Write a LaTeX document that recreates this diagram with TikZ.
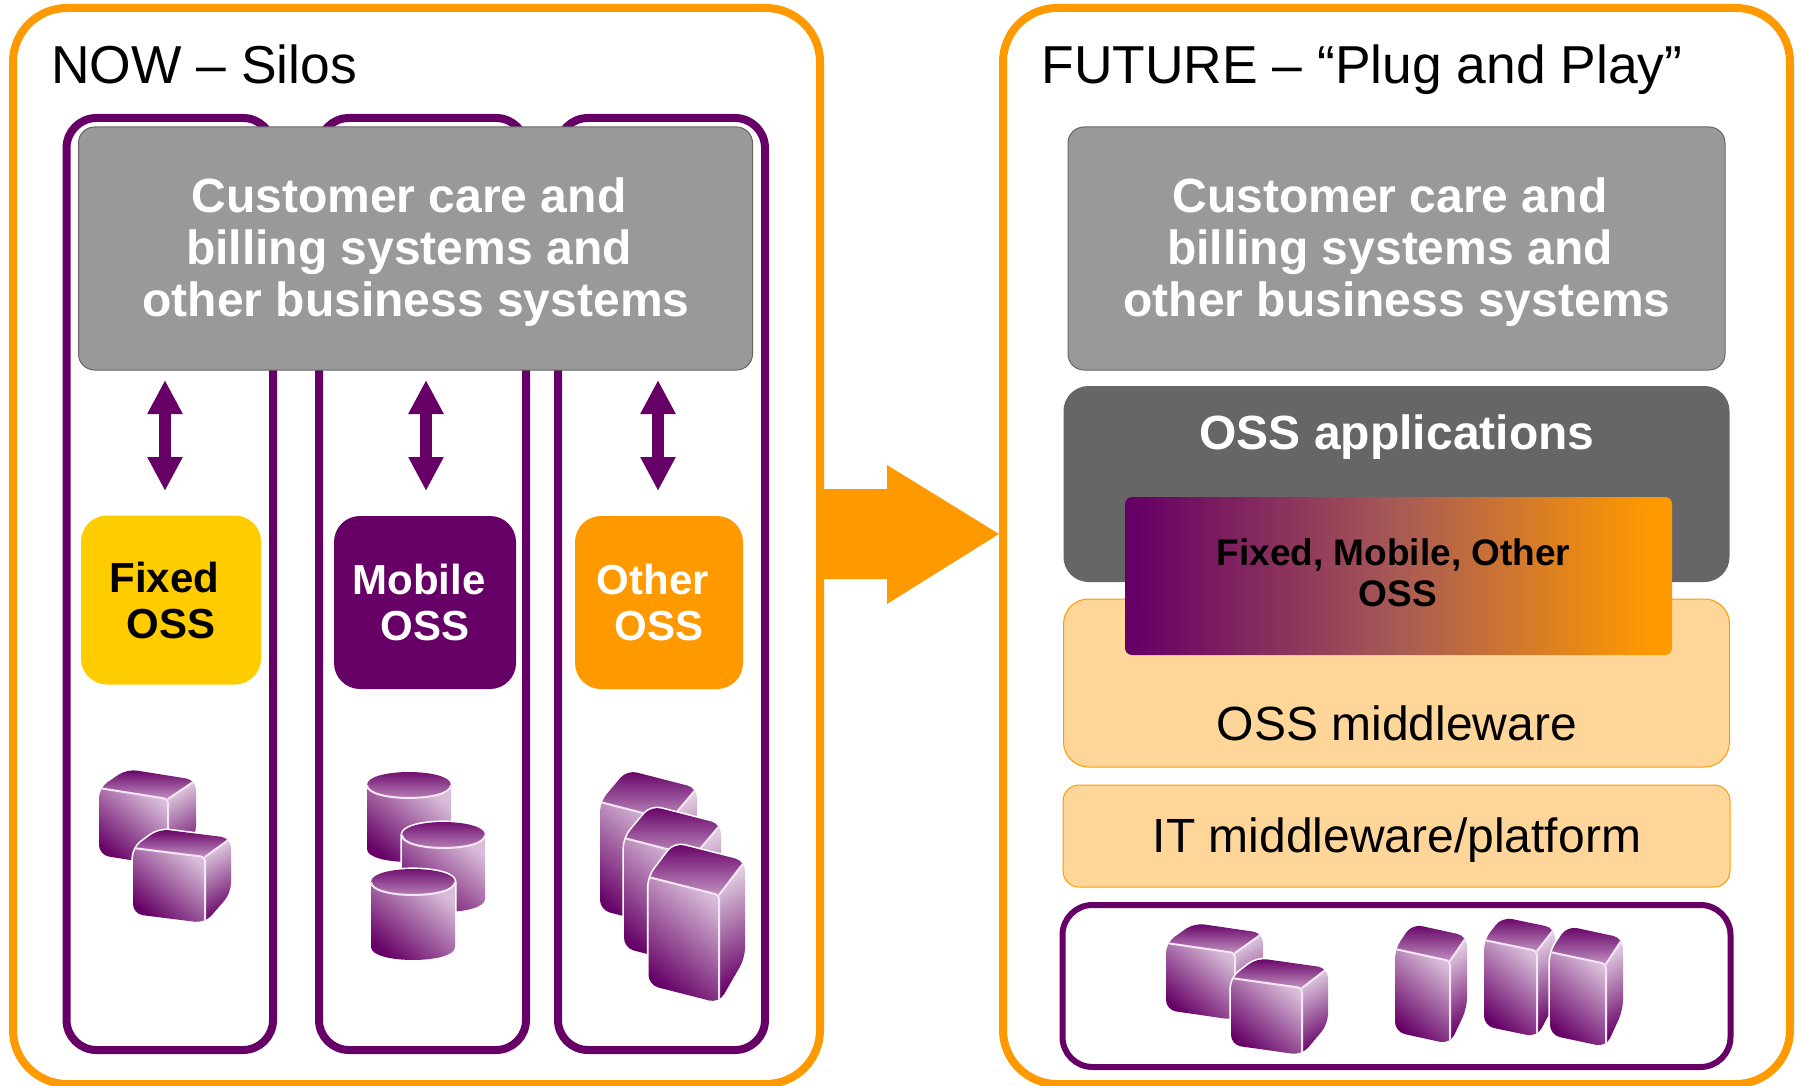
\documentclass[tikz,border=0pt]{standalone}
\usepackage{fontspec}
\setmainfont{Liberation Sans}
\usetikzlibrary{arrows.meta,calc}
\definecolor{pur}{HTML}{660066}
\definecolor{org}{HTML}{FF9900}
\definecolor{ylw}{HTML}{FFCC00}
\definecolor{gry}{HTML}{999999}
\definecolor{dgry}{HTML}{666666}
\definecolor{pale}{HTML}{FFD699}
\definecolor{DCC4DC}{HTML}{D8BCD8}
\definecolor{9C4C9C}{HTML}{9C4C9C}
\definecolor{C8A0C8}{HTML}{C090C0}
\definecolor{E8D8E8}{HTML}{E0CCE0}
\definecolor{F4E6F4}{HTML}{F4E6F4}
\definecolor{gmid}{HTML}{A85A55}
\pgfdeclarehorizontalshading{pgrad}{100bp}{color(0bp)=(pur);color(26bp)=(pur);color(50bp)=(gmid);color(73bp)=(org);color(100bp)=(org)}
\newcommand{\fsz}[1]{\fontsize{#1}{#1}\selectfont}
\tikzset{
  panel/.style={draw=org,line width=4pt,fill=white,rounded corners=27pt},
  silo/.style={draw=pur,line width=4pt,fill=white,rounded corners=15pt},
  rbox/.style={rectangle,inner sep=0pt,rounded corners=#1},
  rbox/.default=8pt,
  biarrow/.style={draw=pur,line width=6pt,{Triangle[width=16.5pt,length=17pt]}-{Triangle[width=16.5pt,length=17pt]}},
  whitebold/.style={text=white,font=\fsz{24}\bfseries,align=center,inner sep=0pt},
  ossbold/.style={font=\fsz{21}\bfseries,align=center,inner sep=0pt},
  titletext/.style={font=\fsz{26.7},inner sep=0pt,anchor=base west},
  midtext/.style={font=\fsz{24},inner sep=0pt,anchor=base},
  frontsh/.style={top color=DCC4DC,middle color=9C4C9C,bottom color=pur,shading angle=-40},
  topsh/.style={top color=pur,bottom color=C8A0C8},
  sidesh/.style={top color=E8D8E8,bottom color=pur,shading angle=30},
  hl/.style={draw=F4E6F4,line width=1pt,line join=round},
  halo/.style={draw=white,fill=white,line width=1.6pt,line join=round},
}
% server box: a(x,y) b(x,y) d(x,y) h
\newcommand{\srv}[7]{%
  \path[halo,rounded corners=5pt] (#1,#2) -- ({#1+#5},{#2+#6}) -- ({#3+#5},{#4+#6}) -- ({#3+#5},{#4+#6+#7-11}) -- (#3,{#4+#7}) -- (#1,{#2+#7}) -- cycle;
  \begin{scope}
  \clip[rounded corners=5pt] (#1,#2) -- ({#1+#5},{#2+#6}) -- ({#3+#5},{#4+#6}) -- ({#3+#5},{#4+#6+#7-11}) -- (#3,{#4+#7}) -- (#1,{#2+#7}) -- cycle;
  \shade[sidesh] (#3,#4) -- ({#3+#5},{#4+#6}) -- ({#3+#5},{#4+#6+#7-11}) -- (#3,{#4+#7}) -- cycle;
  \shade[topsh] (#1,#2) -- ({#1+#5},{#2+#6}) -- ({#3+#5},{#4+#6}) -- (#3,#4) -- cycle;
  \shade[frontsh] (#1,#2) -- (#3,#4) -- (#3,{#4+#7}) -- (#1,{#2+#7}) -- cycle;
  \draw[hl,rounded corners=2pt] (#1,#2) -- (#3,#4) -- (#3,{#4+#7});
  \draw[hl] (#3,#4) -- ({#3+#5},{#4+#6});
  \end{scope}
}
% cylinder: cx cy rx ry h
\newcommand{\cyl}[5]{%
  \path[halo] ({#1-#3},#2) .. controls ({#1-#3},{#2-1.33*#4}) and ({#1+#3},{#2-1.33*#4}) .. ({#1+#3},#2) -- ({#1+#3},{#2+#5}) .. controls ({#1+#3},{#2+#5+1.33*#4}) and ({#1-#3},{#2+#5+1.33*#4}) .. ({#1-#3},{#2+#5}) -- cycle;
  \shade[frontsh] ({#1-#3},#2) -- ({#1-#3},{#2+#5}) .. controls ({#1-#3},{#2+#5+1.33*#4}) and ({#1+#3},{#2+#5+1.33*#4}) .. ({#1+#3},{#2+#5}) -- ({#1+#3},#2) -- cycle;
  \shade[topsh] ({#1-#3},#2) .. controls ({#1-#3},{#2-1.33*#4}) and ({#1+#3},{#2-1.33*#4}) .. ({#1+#3},#2) .. controls ({#1+#3},{#2+1.33*#4}) and ({#1-#3},{#2+1.33*#4}) .. ({#1-#3},#2) -- cycle;
  \draw[hl] ({#1-#3},#2) .. controls ({#1-#3},{#2+1.33*#4}) and ({#1+#3},{#2+1.33*#4}) .. ({#1+#3},#2);
}
\begin{document}
\begin{tikzpicture}[x=0.5pt,y=-0.5pt]
\useasboundingbox (0,0) rectangle (1800,1086);
% panels
\draw[panel] (13,8) rectangle (820,1084);
\draw[panel] (1003,8) rectangle (1790,1084);
\node[titletext] (nowtitle) at (51,84) {NOW – Silos};
\node[titletext] (futuretitle) at (1041,84) {FUTURE – “Plug and Play”};
% silos
\draw[silo] (66.5,118) rectangle (273,1050);
\draw[silo] (319,118) rectangle (526,1050);
\draw[silo] (558,118) rectangle (765,1050);
% big arrow
\fill[org] (824,489) -- (887,489) -- (887,465) -- (999,534) -- (887,604) -- (887,579) -- (824,579) -- cycle;
% gray boxes
\node[rbox=8pt,draw=dgry,line width=0.5pt,fill=gry,minimum width=337pt,minimum height=121.5pt] (careL) at (415.5,248.5) {};
\node[whitebold] (careLt) at (416,252.5) {Customer care and\kern7pt\\[2pt]billing systems and\kern7pt\\[2pt]other business systems};
\node[rbox=8pt,draw=dgry,line width=0.5pt,fill=gry,minimum width=328.5pt,minimum height=121.5pt] (careR) at (1396.5,248.5) {};
\node[whitebold] (careRt) at (1397,252.5) {Customer care and\kern7pt\\[2pt]billing systems and\kern7pt\\[2pt]other business systems};
% arrows
\coordinate (a1t) at (165,380); \coordinate (a1b) at (165,491);
\coordinate (a2t) at (426,380); \coordinate (a2b) at (426,491);
\coordinate (a3t) at (658,380); \coordinate (a3b) at (658,491);
\draw[biarrow] (a1t) -- (a1b);
\draw[biarrow] (a2t) -- (a2b);
\draw[biarrow] (a3t) -- (a3b);
% OSS boxes
\node[rbox=13pt,fill=ylw,minimum width=90pt,minimum height=84.5pt] (fixed) at (171,600) {};
\node[ossbold] (fixedt) at (171,600) {Fixed\kern6.5pt\\[2pt]OSS};
\node[rbox=13pt,fill=pur,minimum width=91pt,minimum height=86.5pt] (mobile) at (425,602.5) {};
\node[ossbold,text=white] (mobilet) at (425,602) {Mobile\kern6pt\\[2pt]OSS};
\node[rbox=13pt,fill=org,minimum width=84pt,minimum height=86.5pt] (other) at (659,602.5) {};
\node[ossbold,text=white] (othert) at (659,602) {Other\kern6pt\\[2pt]OSS};
% servers left
\srv{99}{788}{168}{799}{28}{-19}{67}
\srv{133}{848}{205}{857}{26}{-19}{66}
\cyl{409}{785}{42}{13}{64}
\cyl{443.5}{835}{41.5}{13}{64}
\cyl{413}{882}{42}{13}{65}
\srv{600}{802}{670}{820}{27}{-32}{108}
\srv{624}{838}{694}{856}{27}{-32}{110}
\srv{648.5}{877}{719}{895}{26}{-34}{108}
% right side stack
\node[rbox=12.5pt,fill=dgry,minimum width=333pt,minimum height=98pt] (apps) at (1396.5,484) {};
\node[midtext,text=white,font=\fsz{24}\bfseries] (appst) at (1397,449) {OSS applications};
\node[rbox=12.5pt,draw=org,line width=0.5pt,fill=pale,minimum width=333pt,minimum height=84pt] (ossmw) at (1396.5,683) {};
\node[midtext] (ossmwt) at (1397,740) {OSS middleware};
\node[rbox=3.5pt,shading=pgrad,minimum width=273.5pt,minimum height=79pt] (grad) at (1398.5,576) {};
\node[font=\fsz{18.5}\bfseries,align=center,inner sep=0pt] (gradt) at (1398,573) {Fixed, Mobile, Other\kern4.5pt\\[2pt]OSS};
\node[rbox=8pt,draw=org,line width=0.5pt,fill=pale,minimum width=333.5pt,minimum height=51pt] (itmw) at (1396.5,836) {};
\node[midtext] (itmwt) at (1397,852) {IT middleware/platform};
\draw[silo,line width=3pt] (1062.5,905) rectangle (1730.5,1067);
% servers bottom
\srv{1166}{943}{1235}{953}{28}{-20}{67}
\srv{1231}{978}{1302}{988}{26}{-20}{67}
\srv{1395}{949}{1450}{961}{17}{-25}{83}
\srv{1484}{940}{1537}{951}{18}{-23}{86}
\srv{1550}{952}{1606}{964}{17}{-26}{83}
\end{tikzpicture}
\end{document}
